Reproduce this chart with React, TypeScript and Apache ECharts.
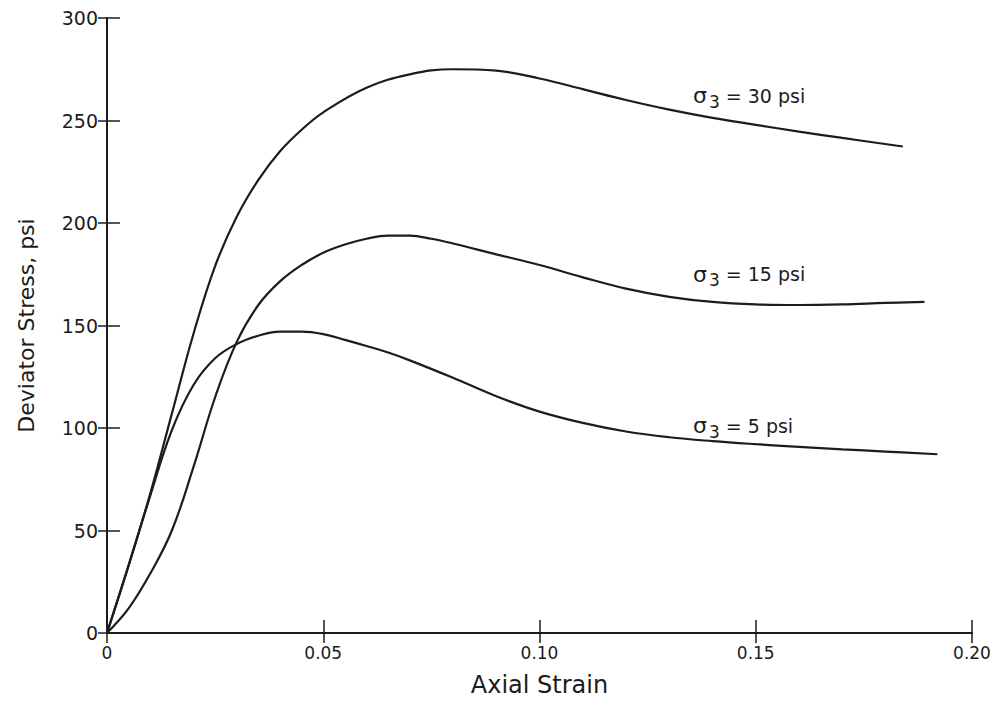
import React, { useEffect, useRef } from "react";
import * as echarts from "echarts";

const strain30 = [0, 0.005, 0.01, 0.015, 0.02, 0.025, 0.03, 0.035, 0.04, 0.045, 0.05, 0.06, 0.07, 0.08, 0.09, 0.1, 0.11, 0.12, 0.13, 0.14, 0.15, 0.16, 0.17, 0.184];
const stress30 = [0, 33, 68, 107, 146, 179, 203, 221, 235, 245.5, 254, 266, 272.5, 275, 274.3, 270.5, 265.3, 260, 255.3, 251.3, 247.9, 244.6, 241.5, 237.3];

const strain15 = [0, 0.005, 0.01, 0.015, 0.02, 0.025, 0.03, 0.035, 0.04, 0.045, 0.05, 0.055, 0.06, 0.065, 0.07, 0.075, 0.08, 0.09, 0.1, 0.11, 0.12, 0.13, 0.14, 0.15, 0.16, 0.17, 0.18, 0.189];
const stress15 = [0, 12, 29, 50, 81, 115, 142, 160, 171.5, 179.5, 185.5, 189.5, 192.3, 193.8, 193.8, 192.3, 190, 184.7, 179.5, 173.5, 168, 164, 161.5, 160.3, 160, 160.3, 161, 161.5];

const strain5 = [0, 0.005, 0.01, 0.015, 0.02, 0.025, 0.03, 0.035, 0.04, 0.045, 0.05, 0.055, 0.06, 0.065, 0.07, 0.08, 0.09, 0.1, 0.11, 0.12, 0.13, 0.14, 0.15, 0.16, 0.17, 0.18, 0.192];
const stress5 = [0, 33, 67, 99, 121, 134, 141, 145, 147, 147, 145.8, 143, 140, 136.8, 133, 124.5, 115.5, 108, 102.5, 98.3, 95.5, 93.6, 92.1, 90.8, 89.6, 88.5, 87.2];

const xTicks = [0, 0.05, 0.1, 0.15, 0.2];
const xTickLabels = ["0", "0.05", "0.10", "0.15", "0.20"];
const curveLabels = ["30", "15", "5"];
const labelAnchorX = [0.1355, 0.1355, 0.1355];
const labelAnchorY = [262, 175, 101];

const FONT = "DejaVu Sans";
const INK = "#1c1c1c";

function pairs(xs: number[], ys: number[]) {
  return xs.map((x, i) => [x, ys[i]]);
}

export default function App() {
  const ref = useRef<HTMLDivElement>(null);
  useEffect(() => {
    document.body.style.margin = "0";
    document.body.style.overflow = "hidden";
    if (!ref.current) return;
    const chart = echarts.init(ref.current, null, { renderer: "svg" });
    const datasets = [pairs(strain30, stress30), pairs(strain15, stress15), pairs(strain5, stress5)];
    const axisLine = { show: true, lineStyle: { color: INK, width: 2 } };
    const tickIn = { show: true, inside: true, length: 13, lineStyle: { color: INK, width: 1.5 } };
    chart.setOption({
      animation: false,
      backgroundColor: "#ffffff",
      grid: { left: 107, right: 25, top: 18, bottom: 66, containLabel: false },
      xAxis: [
        {
          type: "value",
          min: 0,
          max: 0.2,
          interval: 0.05,
          position: "bottom",
          name: "Axial Strain",
          nameLocation: "middle",
          nameGap: 40,
          nameTextStyle: { fontFamily: FONT, fontSize: 24, color: INK },
          axisLine,
          axisTick: tickIn,
          splitLine: { show: false },
          axisLabel: {
            margin: 11,
            fontFamily: FONT,
            fontSize: 17,
            color: INK,
            formatter: (v: number) => {
              const i = xTicks.findIndex((t) => Math.abs(t - v) < 1e-9);
              return i >= 0 ? xTickLabels[i] : "";
            },
          },
        },
        {
          type: "value",
          min: 0,
          max: 0.2,
          interval: 0.05,
          position: "top",
          axisLine,
          axisTick: { ...tickIn, length: 10 },
          axisLabel: { show: false },
          splitLine: { show: false },
        },
      ],
      yAxis: [
        {
          type: "value",
          min: 0,
          max: 300,
          interval: 50,
          position: "left",
          name: "Deviator Stress, psi",
          nameLocation: "middle",
          nameGap: 70,
          nameRotate: 90,
          nameTextStyle: { fontFamily: FONT, fontSize: 22, color: INK },
          axisLine,
          axisTick: tickIn,
          splitLine: { show: false },
          axisLabel: { margin: 9, fontFamily: FONT, fontSize: 19, color: INK },
        },
        {
          type: "value",
          min: 0,
          max: 300,
          interval: 50,
          position: "right",
          axisLine,
          axisTick: { ...tickIn, length: 9 },
          axisLabel: { show: false },
          splitLine: { show: false },
        },
      ],
      series: datasets.map((d, i) => ({
        type: "line",
        xAxisIndex: 0,
        yAxisIndex: 0,
        data: d,
        smooth: 0.4,
        showSymbol: false,
        symbol: "none",
        lineStyle: { color: INK, width: 2.2 },
        markPoint: {
          symbol: "circle",
          symbolSize: 0,
          silent: true,
          data: [{ coord: [labelAnchorX[i], labelAnchorY[i]] }],
          label: {
            show: true,
            position: "right",
            distance: 0,
            formatter: `{s|σ}{sub|3}{t| = ${curveLabels[i]} psi}`,
            rich: {
              s: { fontFamily: FONT, fontSize: 22, color: INK },
              sub: { fontFamily: FONT, fontSize: 17, color: INK, padding: [12, 0, 0, 2] },
              t: { fontFamily: FONT, fontSize: 19, color: INK },
            },
          },
        },
      })),
    });
    return () => chart.dispose();
  }, []);
  return <div ref={ref} style={{ width: 997, height: 702 }} />;
}
